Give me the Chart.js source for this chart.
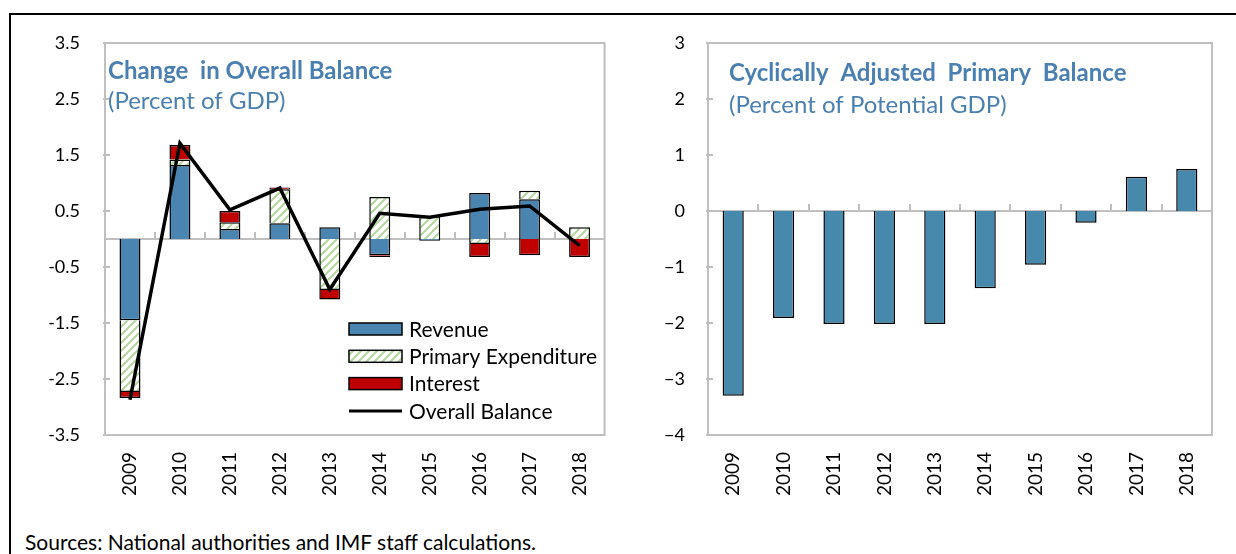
<!DOCTYPE html>
<html>
<head>
<meta charset="utf-8">
<script src="https://cdn.jsdelivr.net/npm/chart.js@4.4.1/dist/chart.umd.min.js"></script>
<style>
body { margin: 0; background: #fff; width: 1236px; height: 554px; overflow: hidden; position: relative; font-family: Lato, sans-serif; }
.frame { position: absolute; left: 9px; top: 13px; width: 1240px; height: 600px; border: 2px solid #000; }
#leftChart { position: absolute; left: 0; top: 0; }
#rightChart { position: absolute; left: 620px; top: 0; }
.source { position: absolute; left: 25px; top: 529px; font-size: 21px; color: #000; }
</style>
</head>
<body>
<div class="frame"></div>
<canvas id="leftChart" width="620" height="520"></canvas>
<canvas id="rightChart" width="616" height="520"></canvas>
<div class="source">Sources: National authorities and IMF staff calculations.</div>
<script>
"use strict";

// data
const years = ["2009", "2010", "2011", "2012", "2013", "2014", "2015", "2016", "2017", "2018"];
const revenue = [-1.45, 1.32, 0.18, 0.28, 0.21, -0.29, -0.03, 0.82, 0.71, 0];
const primaryExpenditure = [-1.28, 0.10, 0.12, 0.61, -0.91, 0.75, 0.41, -0.09, 0.15, 0.21];
const interest = [-0.11, 0.26, 0.20, 0.03, -0.17, -0.03, 0, -0.23, -0.29, -0.32];
const overallBalance = [-2.87, 1.71, 0.52, 0.91, -0.90, 0.46, 0.39, 0.53, 0.59, -0.12];
const cyclicallyAdjusted = [-3.30, -1.91, -2.02, -2.02, -2.02, -1.38, -0.96, -0.21, 0.61, 0.75];

const leftTickLabels = ["-3.5", "-2.5", "-1.5", "-0.5", "0.5", "1.5", "2.5", "3.5"];
const rightTickLabels = ["\u22124", "\u22123", "\u22122", "\u22121", "0", "1", "2", "3"];

const titleColor = "#4a7fb1";
const fontName = "Lato";

//hatched fill for primary expenditure
function makeHatch() {
    let c = document.createElement("canvas");
    c.width = 8;
    c.height = 8;
    let g = c.getContext("2d");
    g.fillStyle = "#ffffff";
    g.fillRect(0, 0, 8, 8);
    g.strokeStyle = "#b3d69c";
    g.lineWidth = 2;
    g.beginPath();
    g.moveTo(0, 8); g.lineTo(8, 0);
    g.moveTo(-2, 2); g.lineTo(2, -2);
    g.moveTo(6, 10); g.lineTo(10, 6);
    g.stroke();
    return g.createPattern(c, "repeat");
}
const hatch = makeHatch();

//grey frame, zero line and small ticks
const axisPlugin = {
    id: "axisPlugin",
    beforeDatasetsDraw(chart) {
        const ctx = chart.ctx;
        const a = chart.chartArea;
        const x = chart.scales.x;
        const y = chart.scales.y;
        ctx.save();
        ctx.strokeStyle = "#bfbfbf";
        ctx.lineWidth = 2;
        ctx.strokeRect(a.left, a.top, a.right - a.left, a.bottom - a.top);
        const y0 = Math.round(y.getPixelForValue(0));
        ctx.beginPath();
        ctx.moveTo(a.left, y0);
        ctx.lineTo(a.right, y0);
        for (let i = 1; i < x.ticks.length; i++) {
            const px = Math.round((x.getPixelForTick(i - 1) + x.getPixelForTick(i)) / 2);
            ctx.moveTo(px, y0);
            ctx.lineTo(px, y0 - 7);
        }
        y.ticks.forEach((t, i) => {
            const py = Math.round(y.getPixelForTick(i));
            ctx.moveTo(a.left - 2, py);
            ctx.lineTo(a.left + 5, py);
        });
        ctx.stroke();
        ctx.restore();
    }
};

//title inside the plot, and the legend box for the left panel
const panelPlugin = {
    id: "panel",
    afterDraw(chart, args, opts) {
        const ctx = chart.ctx;
        const a = chart.chartArea;
        ctx.save();
        ctx.fillStyle = titleColor;
        ctx.textBaseline = "alphabetic";
        ctx.textAlign = "left";
        ctx.font = "bold 24px " + fontName;
        ctx.fillText(opts.title, a.left + opts.dx, a.top + opts.titleY);
        ctx.font = "24px " + fontName;
        ctx.fillText(opts.subtitle, a.left + opts.dx, a.top + opts.subY);

        if (opts.legend) {
            const lx = a.left + 244;
            const ly = a.top + 286;
            ctx.font = "21px " + fontName;
            ctx.textBaseline = "middle";
            chart.data.datasets.forEach((ds, i) => {
                const cy = ly + i * 27.3;
                if (ds.type === "line") {
                    ctx.strokeStyle = ds.borderColor;
                    ctx.lineWidth = 3;
                    ctx.beginPath();
                    ctx.moveTo(lx, cy);
                    ctx.lineTo(lx + 53, cy);
                    ctx.stroke();
                } else {
                    ctx.fillStyle = ds.backgroundColor;
                    ctx.fillRect(lx, cy - 6, 53, 12);
                    ctx.strokeStyle = "#000";
                    ctx.lineWidth = 1.5;
                    ctx.strokeRect(lx, cy - 6, 53, 12);
                }
                ctx.fillStyle = "#000";
                ctx.fillText(ds.label, lx + 60, cy + 1);
            });
        }
        ctx.restore();
    }
};

function xAxis(stacked) {
    return {
        stacked: stacked,
        afterFit(s) { s.height = 85; },
        grid: { display: false, drawTicks: false },
        border: { display: false },
        ticks: {
            autoSkip: false,
            maxRotation: 90,
            minRotation: 90,
            padding: 17,
            color: "#000",
            font: { family: fontName, size: 19 }
        }
    };
}

function yAxis(min, max, labels, width, pad, stacked) {
    return {
        min: min,
        max: max,
        stacked: stacked,
        afterFit(s) { s.width = width; },
        grid: { display: false, drawTicks: false },
        border: { display: false },
        ticks: {
            stepSize: 1,
            padding: pad,
            color: "#000",
            font: { family: fontName, size: 18 },
            callback: (v, i) => labels[i]
        }
    };
}

new Chart(document.getElementById("leftChart"), {
    type: "bar",
    data: {
        labels: years,
        datasets: [
            { label: "Revenue", data: revenue, backgroundColor: "#4a84b1", borderColor: "#000", borderWidth: 1.5, order: 1 },
            { label: "Primary Expenditure", data: primaryExpenditure, backgroundColor: hatch, borderColor: "#000", borderWidth: 1.5, order: 1 },
            { label: "Interest", data: interest, backgroundColor: "#c00000", borderColor: "#000", borderWidth: 1.5, order: 1 },
            { type: "line", label: "Overall Balance", data: overallBalance, stack: "balance", borderColor: "#000", borderWidth: 3.5, pointRadius: 0, tension: 0, order: 0 }
        ]
    },
    options: {
        responsive: false,
        animation: false,
        categoryPercentage: 1,
        barPercentage: 0.42,
        layout: { padding: { left: 0, right: 12, top: 43, bottom: 0 } },
        scales: {
            x: xAxis(true),
            y: yAxis(-3.5, 3.5, leftTickLabels, 105, 25, true)
        },
        plugins: {
            legend: { display: false },
            tooltip: { enabled: false },
            panel: { title: "Change  in Overall Balance", subtitle: "(Percent of GDP)", dx: 3, titleY: 36, subY: 66, legend: true }
        }
    },
    plugins: [axisPlugin, panelPlugin]
});

new Chart(document.getElementById("rightChart"), {
    type: "bar",
    data: {
        labels: years,
        datasets: [
            { label: "Cyclically Adjusted Primary Balance", data: cyclicallyAdjusted, backgroundColor: "#4789ad", borderColor: "#000", borderWidth: 1.5 }
        ]
    },
    options: {
        responsive: false,
        animation: false,
        categoryPercentage: 1,
        barPercentage: 0.42,
        layout: { padding: { left: 0, right: 24, top: 43, bottom: 0 } },
        scales: {
            x: xAxis(false),
            y: yAxis(-4, 3, rightTickLabels, 88, 23, false)
        },
        plugins: {
            legend: { display: false },
            tooltip: { enabled: false },
            panel: { title: "Cyclically  Adjusted  Primary  Balance", subtitle: "(Percent of Potential GDP)", dx: 21, titleY: 38, subY: 70, legend: false }
        }
    },
    plugins: [axisPlugin, panelPlugin]
});
</script>
</body>
</html>
